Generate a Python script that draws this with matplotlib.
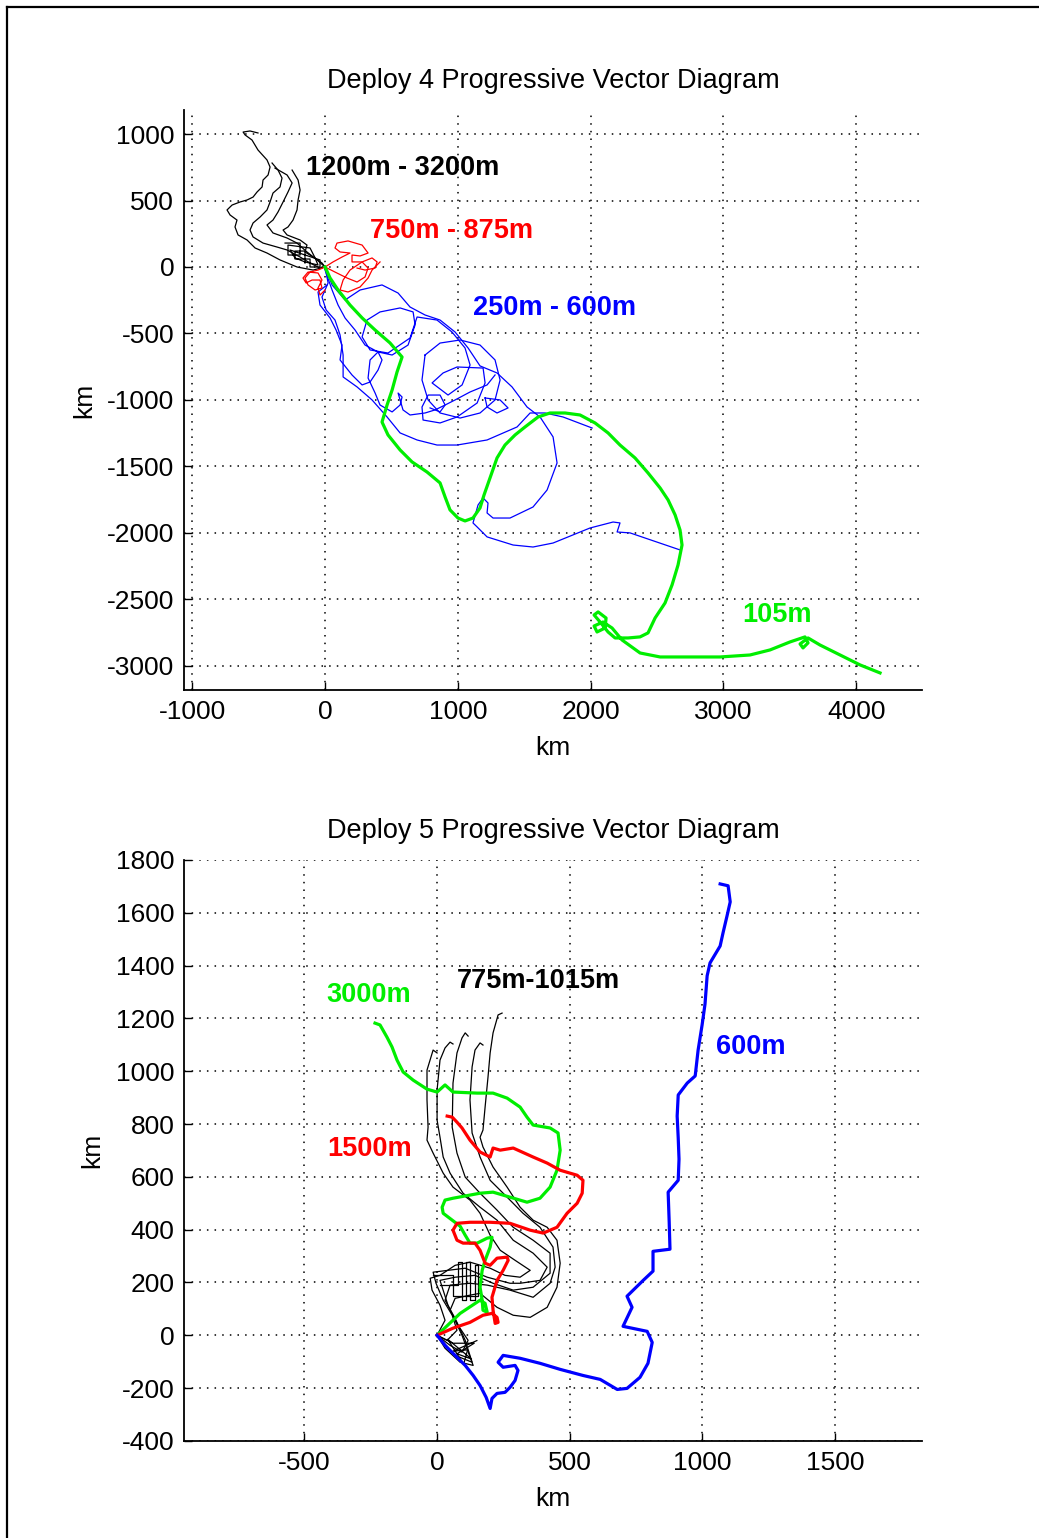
import numpy as np
import matplotlib
matplotlib.use("Agg")
import matplotlib.pyplot as plt
from matplotlib.lines import Line2D

plt.rcParams["font.family"] = ["Liberation Sans", "DejaVu Sans"]
plt.rcParams["axes.unicode_minus"] = False

# ---------------- Deploy 4 tracks (km east, km north) ----------------
D4_GREEN_105M = [
    (0, 0), (38, -83), (98, -173), (188, -286), (279, -383), (377, -474),
    (489, -571), (580, -677), (542, -790), (505, -925), (467, -1038),
    (429, -1166), (474, -1263), (565, -1376), (655, -1466), (768, -1542),
    (866, -1624), (904, -1730), (941, -1827), (1001, -1888), (1054, -1910),
    (1114, -1888), (1167, -1812), (1197, -1715), (1242, -1587), (1295, -1436),
    (1355, -1339), (1431, -1263), (1506, -1203), (1604, -1128), (1694, -1098),
    (1807, -1098), (1920, -1113), (2033, -1173), (2131, -1248), (2221, -1339),
    (2334, -1436), (2432, -1549), (2523, -1662), (2583, -1752), (2636, -1865),
    (2673, -1978), (2688, -2091), (2658, -2241), (2613, -2391), (2560, -2527),
    (2485, -2640), (2432, -2752), (2372, -2782), (2282, -2790), (2184, -2790),
    (2131, -2745), (2071, -2670), (2026, -2617), (2056, -2594), (2116, -2640),
    (2109, -2715), (2048, -2745), (2026, -2700), (2093, -2670), (2161, -2715),
    (2236, -2805), (2372, -2903), (2523, -2933), (2748, -2933), (2974, -2933),
    (3200, -2918), (3351, -2880), (3501, -2820), (3614, -2782), (3637, -2827),
    (3599, -2865), (3577, -2835), (3637, -2790), (3727, -2843), (3878, -2918),
    (4029, -2993), (4179, -3053),
]

D4_BLUE_A = [
    (0, 0), (53, -135), (151, -248), (264, -173), (429, -135), (550, -196),
    (640, -301), (753, -361), (866, -399), (979, -489), (1077, -609),
    (1167, -744), (1295, -797), (1408, -902), (1521, -1053), (1619, -1128),
    (1717, -1278), (1747, -1474), (1672, -1677), (1566, -1805), (1393, -1888),
    (1265, -1888), (1220, -1850), (1227, -1775), (1190, -1737), (1152, -1790),
    (1114, -1925), (1145, -1955), (1220, -2030), (1416, -2091), (1566, -2106),
    (1717, -2076), (1995, -1963), (2169, -1918), (2221, -1925), (2199, -1993),
    (2297, -2000), (2673, -2128),
]
D4_BLUE_B = [
    (0, 0), (23, -120), (-23, -226), (8, -323), (75, -399), (113, -511),
    (136, -662), (136, -827), (241, -902), (354, -1000), (467, -1128),
    (565, -1248), (693, -1301), (843, -1339), (994, -1339), (1220, -1301),
    (1446, -1203), (1544, -1098), (1657, -1098), (1792, -1128), (2011, -1211),
]
D4_BLUE_C = [
    (0, -23), (53, -173), (98, -286), (151, -384), (226, -474), (301, -587),
    (399, -639), (505, -662), (625, -587), (678, -436), (663, -338),
    (565, -308), (414, -338), (316, -399), (279, -526), (339, -624),
    (474, -647), (640, -534), (693, -376), (843, -399), (956, -489),
    (1054, -609), (1092, -737), (1032, -887), (926, -963), (806, -872),
    (889, -797), (994, -752), (1190, -760), (1205, -872), (1145, -1023),
    (994, -1128), (866, -1173), (738, -1151), (730, -1053), (776, -963),
    (866, -963), (904, -1038), (866, -1090), (791, -1060),
]
D4_BLUE_D = [
    (15, -135), (-53, -188), (-38, -286), (38, -384), (83, -474), (128, -587),
    (113, -699), (203, -812), (279, -887), (339, -865), (399, -775),
    (429, -699), (399, -639), (339, -699), (324, -835), (377, -948),
    (414, -1038), (505, -1090), (565, -1038), (580, -978), (550, -948),
    (565, -1000), (587, -1075), (640, -1113), (753, -1098), (828, -1075),
    (904, -1038), (979, -1000), (1092, -940), (1220, -887), (1280, -812),
]
D4_BLUE_E = [
    (1205, -985), (1318, -1000), (1378, -1060), (1295, -1098), (1220, -1053),
    (1205, -985),
]
D4_BLUE_F = [
    (753, -662), (866, -572), (1017, -549), (1167, -587), (1280, -699),
    (1318, -850), (1280, -1000), (1167, -1098), (1017, -1136), (866, -1098),
    (776, -1000), (730, -850), (753, -662),
]

D4_RED_A = [
    (0, 0), (60, 38), (128, 75), (188, 105), (113, 113), (75, 143), (90, 180),
    (173, 196), (279, 165), (324, 105), (264, 83), (203, 90), (203, 38),
    (279, 38), (354, 68), (392, 38), (377, -8), (301, -23), (241, -8),
]
D4_RED_B = [
    (0, 0), (75, -38), (166, -83), (241, -113), (301, -75), (324, -8),
    (279, 38), (188, -23), (136, -98), (113, -173), (173, -188), (264, -150),
    (324, -83), (354, -23), (414, 38),
]
D4_RED_C = [
    (0, 0), (-53, -23), (-113, -38), (-151, -83), (-128, -135), (-75, -173),
    (-23, -158), (-38, -98), (-98, -98), (-143, -120), (-166, -83),
    (-128, -38), (-53, -45), (-23, -98), (-53, -158), (-38, -211), (0, -173),
]

D4_BLACK_A = [
    (0, 0), (-90, -23), (-211, 0), (-339, 53), (-437, 105), (-527, 143),
    (-587, 203), (-655, 241), (-678, 301), (-663, 353), (-715, 391),
    (-738, 429), (-700, 466), (-640, 489), (-587, 504), (-542, 526),
    (-512, 564), (-474, 602), (-467, 654), (-429, 692), (-414, 752),
    (-437, 805), (-505, 880), (-550, 955), (-602, 993), (-617, 1015),
    (-565, 1023), (-505, 1008),
]
D4_BLACK_B = [
    (0, 0), (-38, -8), (-113, 30), (-188, 75), (-286, 128), (-361, 150),
    (-467, 180), (-542, 226), (-565, 278), (-542, 331), (-489, 376),
    (-437, 429), (-414, 489), (-392, 556), (-339, 602), (-324, 669),
    (-354, 729), (-399, 782),
]
D4_BLACK_C = [
    (0, 0), (-60, 53), (-136, 113), (-211, 180), (-286, 218), (-392, 256),
    (-437, 316), (-392, 353), (-354, 414), (-316, 489), (-279, 564),
    (-248, 632), (-286, 692), (-377, 744),
]
D4_BLACK_D = [
    (0, 0), (-23, 30), (-90, 75), (-151, 113), (-136, 165), (-188, 203),
    (-286, 241), (-316, 278), (-279, 301), (-241, 353), (-211, 429),
    (-203, 504), (-188, 579), (-203, 654), (-248, 729),
]
D4_BLACK_E = [
    (-301, 180), (-188, 180), (-188, 90), (-279, 90), (-279, 165), (-113, 143),
    (-75, 68), (-53, 15), (-151, 38), (-226, 68), (-264, 128), (-38, 53),
    (-38, 0), (-113, 0), (-113, 60), (-226, 60), (-226, 120), (-151, 120),
    (-151, 30),
]

# ---------------- Deploy 5 tracks ----------------
D5_BLUE_600M = [
    (0, 0), (30, -38), (68, -76), (106, -114), (136, -152), (162, -190),
    (185, -235), (200, -277), (207, -239), (226, -220), (256, -216),
    (275, -197), (294, -171), (305, -133), (294, -114), (249, -121),
    (230, -102), (249, -76), (313, -87), (388, -106), (464, -129),
    (550, -152), (615, -167), (679, -205), (716, -201), (765, -159),
    (795, -106), (811, -27), (792, 15), (701, 34), (735, 106), (716, 148),
    (777, 208), (814, 243), (814, 318), (878, 326), (875, 428), (871, 542),
    (909, 587), (912, 667), (909, 747), (905, 830), (909, 910), (943, 955),
    (973, 982), (984, 1080), (999, 1175), (1010, 1254), (1018, 1361),
    (1029, 1410), (1067, 1474), (1078, 1524), (1093, 1588), (1105, 1641),
    (1097, 1702), (1067, 1709),
]
D5_GREEN_3000M = [
    (0, 0), (87, 83), (162, 133), (181, 121), (189, 87), (173, 95),
    (170, 133), (162, 182), (170, 246), (181, 284), (200, 334), (207, 371),
    (189, 368), (151, 349), (124, 349), (106, 379), (87, 413), (57, 436),
    (23, 462), (19, 485), (30, 512), (60, 519), (162, 538), (211, 542),
    (275, 523), (339, 504), (388, 519), (426, 561), (452, 625), (464, 701),
    (456, 766), (426, 785), (362, 796), (339, 826), (313, 864), (264, 898),
    (211, 917), (151, 917), (60, 921), (30, 948), (0, 921), (-38, 932),
    (-90, 966), (-128, 997), (-151, 1042), (-170, 1092), (-189, 1129),
    (-215, 1175), (-234, 1182),
]
D5_RED_1500M = [
    (0, 0), (60, 27), (124, 49), (173, 76), (207, 83), (226, 68), (230, 49),
    (219, 45), (211, 95), (207, 144), (226, 208), (249, 246), (268, 284),
    (264, 296), (226, 292), (200, 265), (181, 273), (162, 322), (143, 349),
    (98, 349), (75, 360), (60, 398), (75, 424), (124, 428), (200, 428),
    (275, 424), (351, 398), (400, 387), (452, 409), (490, 462), (528, 500),
    (547, 538), (550, 587), (528, 606), (464, 625), (415, 652), (362, 675),
    (287, 709), (238, 701), (211, 709), (200, 675), (162, 694), (124, 739),
    (94, 785), (75, 807), (57, 826), (38, 830),
]
D5_BLACK_A = [
    (0, 0), (49, -38), (94, -64), (117, -19), (79, 38), (49, 95), (68, 140),
    (124, 152), (162, 159), (226, 106), (287, 76), (351, 68), (415, 106),
    (452, 182), (464, 273), (452, 360), (415, 409), (362, 436), (313, 485),
    (264, 561), (211, 637), (173, 713), (162, 750), (173, 777), (181, 864),
    (192, 978), (200, 1069), (211, 1145), (230, 1213), (245, 1220),
]
D5_BLACK_B = [
    (0, 0), (68, -76), (132, -102), (106, -19), (68, 64), (30, 133),
    (49, 190), (124, 197), (189, 190), (275, 171), (362, 144), (426, 197),
    (445, 258), (437, 334), (388, 409), (324, 462), (264, 523), (200, 587),
    (162, 675), (132, 766), (124, 891), (132, 1016), (143, 1080),
    (162, 1107), (173, 1099),
]
D5_BLACK_C = [
    (0, 0), (30, -49), (87, -102), (136, -114), (94, 0), (41, 114),
    (11, 208), (68, 220), (143, 227), (211, 197), (287, 171), (362, 182),
    (426, 235), (426, 311), (362, 360), (287, 409), (226, 474), (162, 538),
    (106, 599), (75, 690), (57, 788), (60, 955), (75, 1069), (94, 1126),
    (106, 1145), (117, 1133),
]
D5_BLACK_D = [
    (0, 0), (38, -19), (75, 19), (57, 76), (23, 133), (-4, 197), (-15, 239),
    (41, 246), (106, 254), (189, 220), (275, 197), (313, 197), (388, 208),
    (415, 258), (362, 311), (287, 360), (226, 436), (162, 485), (98, 538),
    (49, 614), (23, 675), (11, 750), (0, 815), (0, 929), (11, 1042),
    (30, 1088), (49, 1110), (60, 1103),
]
D5_BLACK_E = [
    (0, 0), (30, 57), (11, 114), (-19, 171), (-26, 216), (11, 227),
    (68, 265), (124, 277), (200, 254), (256, 227), (313, 220), (351, 246),
    (294, 284), (238, 322), (200, 379), (162, 462), (124, 512), (60, 561),
    (23, 614), (-15, 690), (-38, 739), (-34, 788), (-38, 891), (-38, 1004),
    (-15, 1080), (0, 1069),
]
D5_BLACK_GRID = [
    (11, 190), (79, 190), (79, 277), (94, 277), (94, 133), (109, 133),
    (109, 277), (124, 277), (124, 133), (143, 133), (143, 265), (155, 265),
    (155, 150), (60, 150), (60, 230), (-15, 230),
]
D5_BLACK_FAN = [
    (0, 0), (60, -30), (140, -30), (75, -70), (130, -90), (40, -15),
    (100, -110), (115, -55), (60, -60), (150, -20),
]

D4_XTICKS = [-1000, 0, 1000, 2000, 3000, 4000]
D4_YTICKS = [1000, 500, 0, -500, -1000, -1500, -2000, -2500, -3000]
D5_XTICKS = [-500, 0, 500, 1000, 1500]
D5_YTICKS = [1800, 1600, 1400, 1200, 1000, 800, 600, 400, 200, 0, -200, -400]

GREEN = "#00ee00"
BLUE = "#0000ff"
RED = "#ff0000"
BLACK = "#000000"


def track(ax, pts, color, lw):
    a = np.array(pts, dtype=float)
    ax.plot(a[:, 0], a[:, 1], color=color, lw=lw, solid_joinstyle="round")


def style_axes(ax, title, xticks, yticks, xlim, ylim):
    ax.set_xlim(*xlim)
    ax.set_ylim(*ylim)
    ax.set_xticks(xticks)
    ax.set_yticks(yticks)
    ax.set_xticklabels([str(v) for v in xticks])
    ax.set_yticklabels([str(v) for v in yticks])
    for s in ("top", "right"):
        ax.spines[s].set_visible(False)
    for s in ("left", "bottom"):
        ax.spines[s].set_linewidth(1.3)
    ax.tick_params(direction="in", length=6, width=1.0, labelsize=19,
                   pad=7)
    ax.grid(True, color="black", linestyle=(0, (1, 4)), linewidth=1.1)
    ax.set_axisbelow(True)
    ax.set_xlabel("km", fontsize=19, labelpad=9)
    ax.set_ylabel("km", fontsize=19, labelpad=8)
    ax.set_title(title, fontsize=19.5, pad=16)


fig = plt.figure(figsize=(10.39, 15.38), dpi=100)

# frame line along the left and top edge
fig.add_artist(Line2D([7 / 1039, 7 / 1039], [0, 1 - 7 / 1538],
                      transform=fig.transFigure, color="black", lw=1.6))
fig.add_artist(Line2D([7 / 1039, 1], [1 - 7 / 1538, 1 - 7 / 1538],
                      transform=fig.transFigure, color="black", lw=1.6))

# --- Deploy 4 ---
ax1 = fig.add_axes([0.1771, 0.5514, 0.7103, 0.3771])
style_axes(ax1, "Deploy 4 Progressive Vector Diagram",
           D4_XTICKS, D4_YTICKS, (-1062, 4495), (-3181, 1181))
for pts in (D4_BLUE_A, D4_BLUE_B, D4_BLUE_C, D4_BLUE_D, D4_BLUE_E,
            D4_BLUE_F):
    track(ax1, pts, BLUE, 0.9)
for pts in (D4_BLACK_A, D4_BLACK_B, D4_BLACK_C, D4_BLACK_D, D4_BLACK_E):
    track(ax1, pts, BLACK, 0.9)
for pts in (D4_RED_A, D4_RED_B, D4_RED_C):
    track(ax1, pts, RED, 0.9)
track(ax1, D4_GREEN_105M, GREEN, 2.3)

lab = dict(fontsize=19.5, fontweight="bold", ha="left", va="center")
ax1.text(-143, 745, "1200m - 3200m", color=BLACK, **lab)
ax1.text(339, 271, "750m - 875m", color=RED, **lab)
ax1.text(1114, -308, "250m - 600m", color=BLUE, **lab)
ax1.text(3140, -2617, "105m", color=GREEN, **lab)

# --- Deploy 5 ---
ax2 = fig.add_axes([0.1771, 0.0631, 0.7103, 0.3778])
style_axes(ax2, "Deploy 5 Progressive Vector Diagram",
           D5_XTICKS, D5_YTICKS, (-954, 1828), (-400, 1800))
for pts in (D5_BLACK_A, D5_BLACK_B, D5_BLACK_C, D5_BLACK_D, D5_BLACK_E,
            D5_BLACK_GRID, D5_BLACK_FAN):
    track(ax2, pts, BLACK, 0.9)
track(ax2, D5_GREEN_3000M, GREEN, 2.3)
track(ax2, D5_RED_1500M, RED, 2.3)
track(ax2, D5_BLUE_600M, BLUE, 2.3)

ax2.text(-418, 1289, "3000m", color=GREEN, **lab)
ax2.text(75, 1342, "775m-1015m", color=BLACK, **lab)
ax2.text(1052, 1092, "600m", color=BLUE, **lab)
ax2.text(-415, 705, "1500m", color=RED, **lab)

fig.savefig("out.png", dpi=100)
